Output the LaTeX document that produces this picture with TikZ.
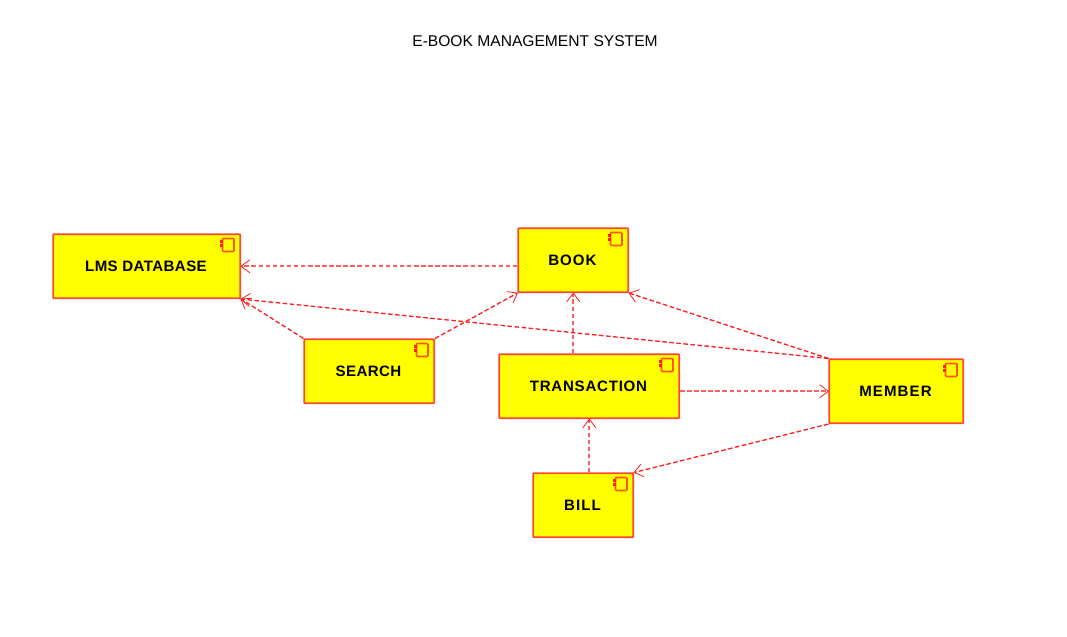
\documentclass[tikz,border=0pt]{standalone}
\usepackage{fontspec}
\setmainfont{Liberation Sans}
\usetikzlibrary{arrows.meta}
\definecolor{edgered}{RGB}{255,30,30}
\definecolor{edgepale}{RGB}{255,95,95}
\definecolor{boxline}{RGB}{255,70,50}
\definecolor{iconline}{RGB}{255,85,10}
\definecolor{boxfill}{RGB}{255,255,0}
\pgfdeclarearrow{
  name=OpenVee,
  setup code={
    \pgfarrowssettipend{0pt}
    \pgfarrowssetlineend{-0.4pt}
    \pgfarrowssetbackend{-6.6pt}
    \pgfarrowssetvisualbackend{-0.4pt}
    \pgfarrowshullpoint{0pt}{0pt}
    \pgfarrowsupperhullpoint{-6.6pt}{4.9pt}
  },
  drawing code={
    \pgfsetdash{}{0pt}
    \pgfsetlinewidth{0.6pt}
    \pgfsetstrokecolor{edgered}
    \pgfpathmoveto{\pgfqpoint{-6.6pt}{4.9pt}}
    \pgfpathlineto{\pgfqpoint{0pt}{0pt}}
    \pgfpathlineto{\pgfqpoint{-6.6pt}{-4.9pt}}
    \pgfusepathqstroke
  }
}
\tikzset{
  x=0.75pt,y=-0.75pt,
  comp/.style={draw=boxline,fill=boxfill,line width=1.2pt,rounded corners=0.4pt,inner sep=0pt,
    font=\bfseries\fontsize{11.3pt}{13pt}\selectfont,text=black},
  dep/.style={draw=edgered,line width=1pt,dash pattern=on 3.4pt off 1.9pt,-{OpenVee}},
  depaxis/.style={dep,draw=edgepale,line width=1.4pt},
  icon/.style={draw=iconline,line width=1.25pt,rounded corners=0.7pt},
  nib/.style={fill=edgered,draw=none}
}
\newcommand{\compbox}[7]{% name, x1,y1,x2,y2,text,tracking
  \node[comp,minimum width=#4*0.75pt-#2*0.75pt,minimum height=#5*0.75pt-#3*0.75pt,anchor=north west] (#1) at (#2,#3) {\hspace{-1.2pt}\addfontfeature{LetterSpace=#7}#6};
  \draw[icon] (#4-17,#3+5) rectangle (#4-5.5,#3+18);
  \fill[nib] (#4-19.5,#3+7) rectangle (#4-16,#3+9.6);
  \fill[nib] (#4-19.5,#3+10.6) rectangle (#4-16,#3+13.2);
}
\begin{document}
\begin{tikzpicture}
\useasboundingbox (0,0) rectangle (1067,636);
\node[font=\fontsize{11.7pt}{13pt}\selectfont,text=black] (title) at (535,41) {E-BOOK MANAGEMENT SYSTEM};
\begin{scope}[xshift=-0.4pt,yshift=0.4pt]
\compbox{lms}{53}{234}{240}{298}{LMS DATABASE}{2.8}
\compbox{book}{518}{228}{628}{292}{BOOK}{6.7}
\compbox{search}{304}{339}{434}{403}{SEARCH}{2.8}
\compbox{trans}{499}{354}{679}{418}{TRANSACTION}{5}
\compbox{member}{829}{359}{963}{423}{MEMBER}{7.2}
\compbox{bill}{533}{473}{633}{537}{BILL}{7}
\draw[depaxis] (book.west |- lms.east) -- (lms.east);
\draw[dep] (search.north west) -- (lms.south east);
\draw[dep] (search.north east) -- (book.south west);
\draw[depaxis] (book.south |- trans.north) -- (book.south);
\draw[dep] (member.north west) -- (book.south east);
\draw[dep] (member.north west) -- (lms.south east);
\draw[depaxis] (trans.east |- member.west) -- (member.west);
\draw[dep] (member.south west) -- (bill.north east);
\draw[depaxis] (trans.south |- bill.north) -- (trans.south);
\end{scope}
\end{tikzpicture}
\end{document}
